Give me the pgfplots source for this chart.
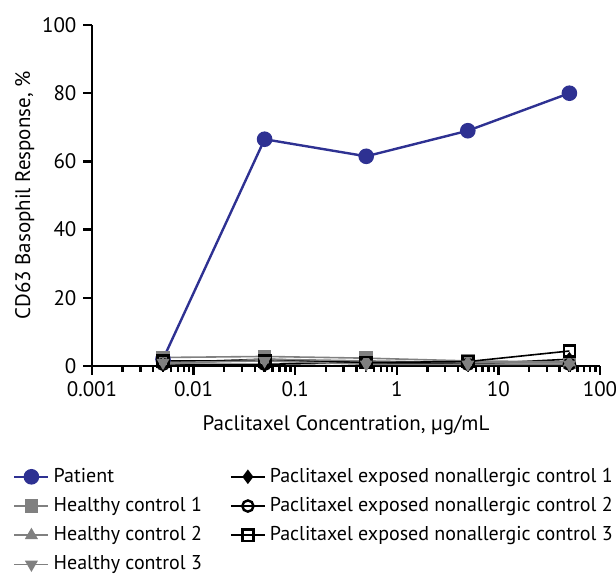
\documentclass[border=0pt]{standalone}
\usepackage{fontspec}
\setmainfont{PT Sans}
\usepackage{pgfplots}
\pgfplotsset{compat=1.18}
\definecolor{navyb}{RGB}{46,49,146}
\definecolor{cgray}{RGB}{128,128,128}
\begin{document}
\begin{tikzpicture}
\begin{axis}[
  scale only axis, width=254pt, height=170.5pt,
  font=\fontsize{10.5}{12}\selectfont,
  xmode=log, xmin=0.001, xmax=100, ymin=0, ymax=100,
  axis lines=left,
  axis line style={line width=1.4pt, -},
  tick align=outside,
  every tick/.append style={black, line width=1.2pt},
  log ticks with fixed point,
  /pgf/number format/assume math mode=true,
  xlabel={Paclitaxel Concentration, µg/mL},
  ylabel={CD63 Basophil Response, \%},
  xlabel style={yshift=-2.5pt},
  ylabel style={yshift=-3pt},
  legend columns=2,
  legend cell align=left,
  legend style={draw=none, fill=none, inner xsep=0pt, at={(-0.156,-0.275)}, anchor=north west,
    font=\fontsize{10}{12}\selectfont,
    /tikz/every even column/.append style={column sep=12pt},
    row sep=2pt},
]
\addplot[navyb, line width=1.2pt, mark=*, mark size=3.3pt] coordinates {(0.005,2) (0.05,66.5) (0.5,61.5) (5,69) (50,80)};
\addlegendentry{Patient}
\addplot[black, line width=0.8pt, mark=diamond*, mark size=3pt] coordinates {(0.005,1) (0.05,2) (0.5,1) (5,0.5) (50,2)};
\addlegendentry{Paclitaxel exposed nonallergic control 1}
\addplot[cgray, line width=0.8pt, mark=square*, mark size=3pt] coordinates {(0.005,2.5) (0.05,2.8) (0.5,2.3) (5,1.5) (50,1.2)};
\addlegendentry{Healthy control 1}
\addplot[black, line width=0.8pt, mark=o, mark size=2.8pt, mark options={line width=1.2pt}] coordinates {(0.005,0.5) (0.05,0.5) (0.5,1) (5,0.5) (50,0.5)};
\addlegendentry{Paclitaxel exposed nonallergic control 2}
\addplot[cgray, line width=0.8pt, mark=triangle*, mark size=3pt] coordinates {(0.005,0.5) (0.05,2) (0.5,1.5) (5,1) (50,1)};
\addlegendentry{Healthy control 2}
\addplot[black, line width=0.8pt, mark=square, mark size=2.8pt, mark options={line width=1.3pt}] coordinates {(0.005,1.5) (0.05,1.5) (0.5,1) (5,1.3) (50,4.4)};
\addlegendentry{Paclitaxel exposed nonallergic control 3}
\addplot[cgray, line width=0.8pt, mark=triangle*, mark size=3pt, mark options={rotate=180}] coordinates {(0.005,1) (0.05,1.5) (0.5,0.5) (5,0.5) (50,0.5)};
\addlegendentry{Healthy control 3}
\end{axis}
\pgfresetboundingbox
\path (current axis.south west) ++(-46pt,-104pt) rectangle ([shift={(8pt,12.5pt)}]current axis.north east);
\end{tikzpicture}
\end{document}
